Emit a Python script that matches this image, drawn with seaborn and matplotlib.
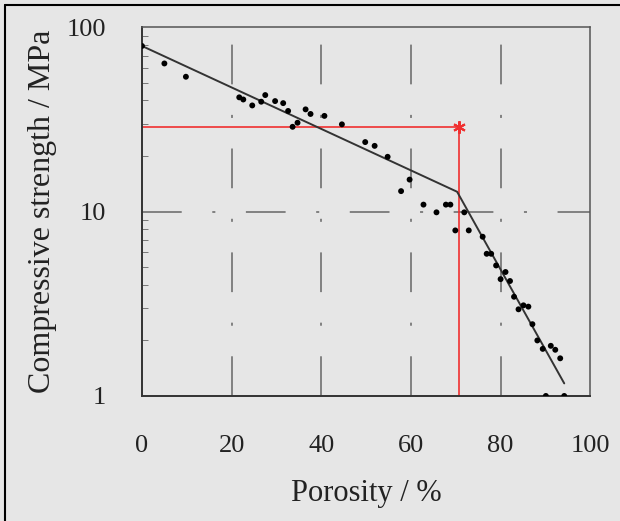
import matplotlib
matplotlib.use("Agg")
import matplotlib.pyplot as plt
import numpy as np
import pandas as pd
import seaborn as sns
from matplotlib.lines import Line2D
from matplotlib.ticker import FixedLocator, LogLocator, NullFormatter

# measured points (porosity %, strength MPa)
porosity = [0.0, 5.0, 9.8, 21.7, 22.6, 24.6, 26.6, 27.5, 29.7, 31.5, 32.6, 33.6,
            34.7, 36.5, 37.6, 40.7, 44.6, 49.8, 51.9, 54.8, 57.8, 59.7, 62.8,
            65.7, 67.8, 68.8, 69.9, 71.9, 72.9, 76.0, 76.9, 77.9, 79.0, 80.0,
            81.1, 82.1, 83.0, 84.0, 85.1, 86.2, 87.1, 88.2, 89.4, 90.1, 91.2,
            92.2, 93.3, 94.2]
strength = [79.0, 63.5, 53.8, 41.6, 40.5, 37.6, 39.4, 42.8, 39.7, 38.7, 35.1, 28.8,
            30.3, 35.8, 33.8, 33.0, 29.7, 23.8, 22.7, 19.8, 12.9, 14.9, 10.9,
            9.9, 10.9, 10.9, 7.9, 9.9, 7.9, 7.3, 5.9, 5.9, 5.1, 4.3,
            4.7, 4.2, 3.45, 2.95, 3.1, 3.05, 2.45, 2.0, 1.8, 1.0, 1.87,
            1.78, 1.6, 1.0]

# fitted two-branch line
fit_x = [0.0, 70.3, 94.2]
fit_y = [79.0, 12.8, 1.17]

# highlighted point
mark_x = 70.8
mark_y = 28.7

x_ticks = [0, 20, 40, 60, 80, 100]
y_ticks = [1, 10, 100]

bg = "#e6e6e6"
sns.set_theme(style="white")
plt.rcParams["font.family"] = ["Liberation Serif", "DejaVu Serif"]

fig = plt.figure(figsize=(6.2, 5.21), dpi=100, facecolor=bg)
ax = fig.add_axes([0.229, 0.240, 0.723, 0.708], facecolor=bg)

df = pd.DataFrame({"porosity": porosity, "strength": strength})
fit = pd.DataFrame({"porosity": fit_x, "strength": fit_y})

ax.set_yscale("log")
ax.set_xlim(0, 100)
ax.set_ylim(1, 100)

# broken-looking grid lines from the scan
for xv in x_ticks[1:-1]:
    ax.axvline(xv, color="#666666", lw=1.1, ls=(0, (26, 20, 2, 20)), zorder=1)
ax.axhline(10, color="#666666", lw=1.1, ls=(0, (26, 20, 2, 20)), zorder=1)

sns.lineplot(data=fit, x="porosity", y="strength", ax=ax, color="#333333",
             lw=1.4, zorder=3)
sns.scatterplot(data=df, x="porosity", y="strength", ax=ax, color="black",
                s=18, edgecolor="none", zorder=4, clip_on=True)

ax.plot([0, mark_x], [mark_y, mark_y], color="#f03030", lw=1.2, zorder=2)
ax.plot([mark_x, mark_x], [1, mark_y], color="#f03030", lw=1.2, zorder=2)
ax.plot([mark_x], [mark_y], marker=(6, 2, 0), color="#f03030",
        markersize=9, mew=1.5, zorder=5)

ax.xaxis.set_major_locator(FixedLocator(x_ticks))
ax.set_xticklabels([str(t) for t in x_ticks])
ax.yaxis.set_major_locator(FixedLocator(y_ticks))
ax.set_yticklabels([str(t) for t in y_ticks])
ax.yaxis.set_minor_locator(LogLocator(base=10, subs=np.arange(2, 10)))
ax.yaxis.set_minor_formatter(NullFormatter())

ax.tick_params(axis="x", which="major", direction="in", length=0, pad=28,
               labelsize=19, colors="#222222")
ax.tick_params(axis="y", which="major", direction="in", length=0, pad=26,
               labelsize=19, colors="#222222")
ax.tick_params(axis="y", which="minor", direction="in", length=4, width=0.7,
               color="#777777", left=True)

ax.set_xlabel("Porosity / %", fontsize=22, color="#222222", labelpad=16)
ax.set_ylabel("Compressive strength / MPa", fontsize=23, color="#222222",
              labelpad=7)

for side in ["left", "bottom"]:
    ax.spines[side].set_color("#333333")
    ax.spines[side].set_linewidth(1.4)
for side in ["top", "right"]:
    ax.spines[side].set_color("#555555")
    ax.spines[side].set_linewidth(1.1)

# scan border (top and left)
fig.add_artist(Line2D([0.008, 1.0], [0.990, 0.990], color="black", lw=1.5,
                      transform=fig.transFigure))
fig.add_artist(Line2D([0.008, 0.008], [0.0, 0.990], color="black", lw=1.5,
                      transform=fig.transFigure))

fig.savefig("out.png", dpi=100, facecolor=bg)
